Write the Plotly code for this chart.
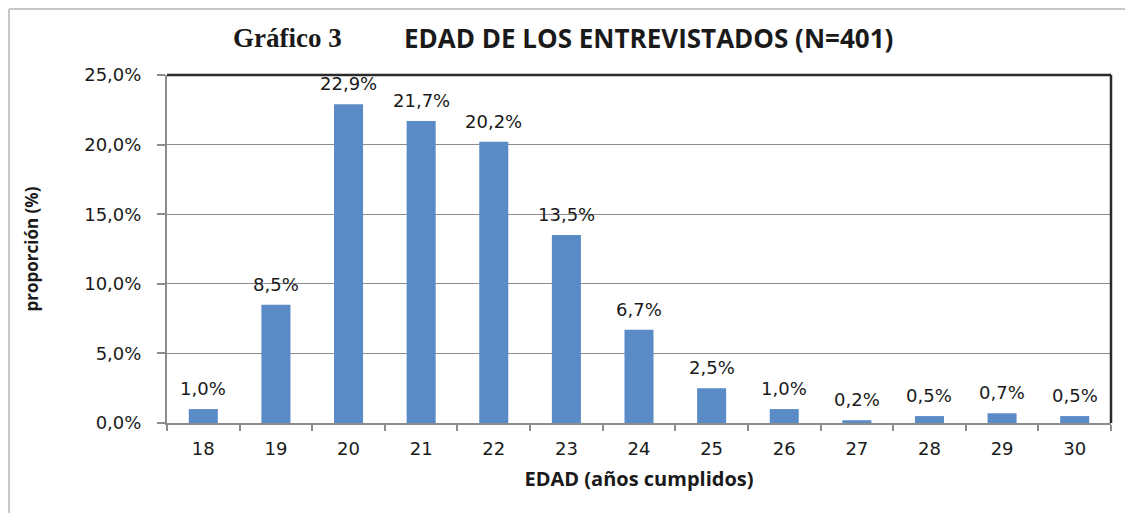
import plotly.graph_objects as go

edades = ["18", "19", "20", "21", "22", "23", "24", "25", "26", "27", "28", "29", "30"]
proporcion = [0.010, 0.085, 0.229, 0.217, 0.202, 0.135, 0.067, 0.025, 0.010, 0.002, 0.005, 0.007, 0.005]
y_ticks = [0.0, 0.05, 0.10, 0.15, 0.20, 0.25]

OFF = 8  # page body margin
W, H = 1133 - OFF, 513 - OFF
L, T = 167 - OFF, 75 - OFF
R = W - (1111 - OFF)
B = H - (423 - OFF)
pw, ph = W - L - R, H - T - B

def px_x(x):
    return (x - OFF - L) / pw

def px_y(y):
    return 1 - (y - OFF - T) / ph

fig = go.Figure()
fig.add_trace(go.Bar(
    x=edades, y=proporcion,
    marker=dict(color="#5B8BC6", line=dict(width=0)),
    width=0.4,
))

# data labels (category index positions on the category axis)
for i, v in enumerate(proporcion):
    fig.add_annotation(x=i, y=v, xref="x", yref="y",
                       text=f"{v*100:.1f}%".replace(".", ","),
                       showarrow=False, xanchor="center", yanchor="bottom", yshift=8,
                       font=dict(family="DejaVu Sans", size=18, color="#1a1a1a"))

fig.update_layout(
    width=W, height=H, autosize=False,
    margin=dict(l=L, r=R, t=T, b=B, pad=0),
    paper_bgcolor="white", plot_bgcolor="white",
    separators=",.",
    showlegend=False,
    xaxis=dict(
        type="category",
        range=[-0.5, len(edades) - 0.5],
        showline=True, linecolor="#8c8c8c", linewidth=2,
        ticks="outside", tickson="boundaries", ticklen=6, tickcolor="#8c8c8c", tickwidth=2,
        ticklabelstandoff=8,
        tickangle=0,
        tickfont=dict(family="DejaVu Sans", size=18, color="#1a1a1a"),
        showgrid=False,
        title=dict(text="<b>EDAD (años cumplidos)</b>", font=dict(family="Open Sans", size=20, color="#1a1a1a"), standoff=14),
    ),
    yaxis=dict(
        range=[0, 0.25],
        tickvals=y_ticks, tickformat=".1%",
        showline=True, linecolor="#8c8c8c", linewidth=2,
        ticks="outside", ticklen=8, tickcolor="#8c8c8c", tickwidth=2,
        ticklabelstandoff=12,
        tickfont=dict(family="DejaVu Sans", size=18, color="#1a1a1a"),
        showgrid=True, gridcolor="#8c8c8c", gridwidth=1.2,
        zeroline=False,
        title=dict(text="<b>proporción (%)</b>", font=dict(family="Open Sans", size=17, color="#1a1a1a"), standoff=41),
    ),
)

# plot frame (top & right dark)
fig.add_shape(type="line", xref="paper", yref="paper", x0=0, x1=1, y0=1, y1=1, line=dict(color="#2a2a2a", width=2.5))
fig.add_shape(type="line", xref="paper", yref="paper", x0=1, x1=1, y0=0, y1=1, line=dict(color="#2a2a2a", width=2.5))
# outer frame
fig.add_shape(type="line", xref="paper", yref="paper", x0=px_x(9), x1=px_x(1140), y0=px_y(9), y1=px_y(9), line=dict(color="#c8c8c8", width=2))
fig.add_shape(type="line", xref="paper", yref="paper", x0=px_x(9), x1=px_x(9), y0=px_y(9), y1=px_y(520), line=dict(color="#c8c8c8", width=2))

fig.add_annotation(text="<b>Gráfico 3</b>", xref="paper", yref="paper", x=px_x(287), y=px_y(38),
                   showarrow=False, xanchor="center", yanchor="middle",
                   font=dict(family="Liberation Serif", size=27, color="#1a1a1a"))
fig.add_annotation(text="<b>EDAD DE LOS ENTREVISTADOS (N=401)</b>", xref="paper", yref="paper", x=px_x(648), y=px_y(38),
                   showarrow=False, xanchor="center", yanchor="middle",
                   font=dict(family="Open Sans", size=26, color="#1a1a1a"))

fig.write_html("out.html")
